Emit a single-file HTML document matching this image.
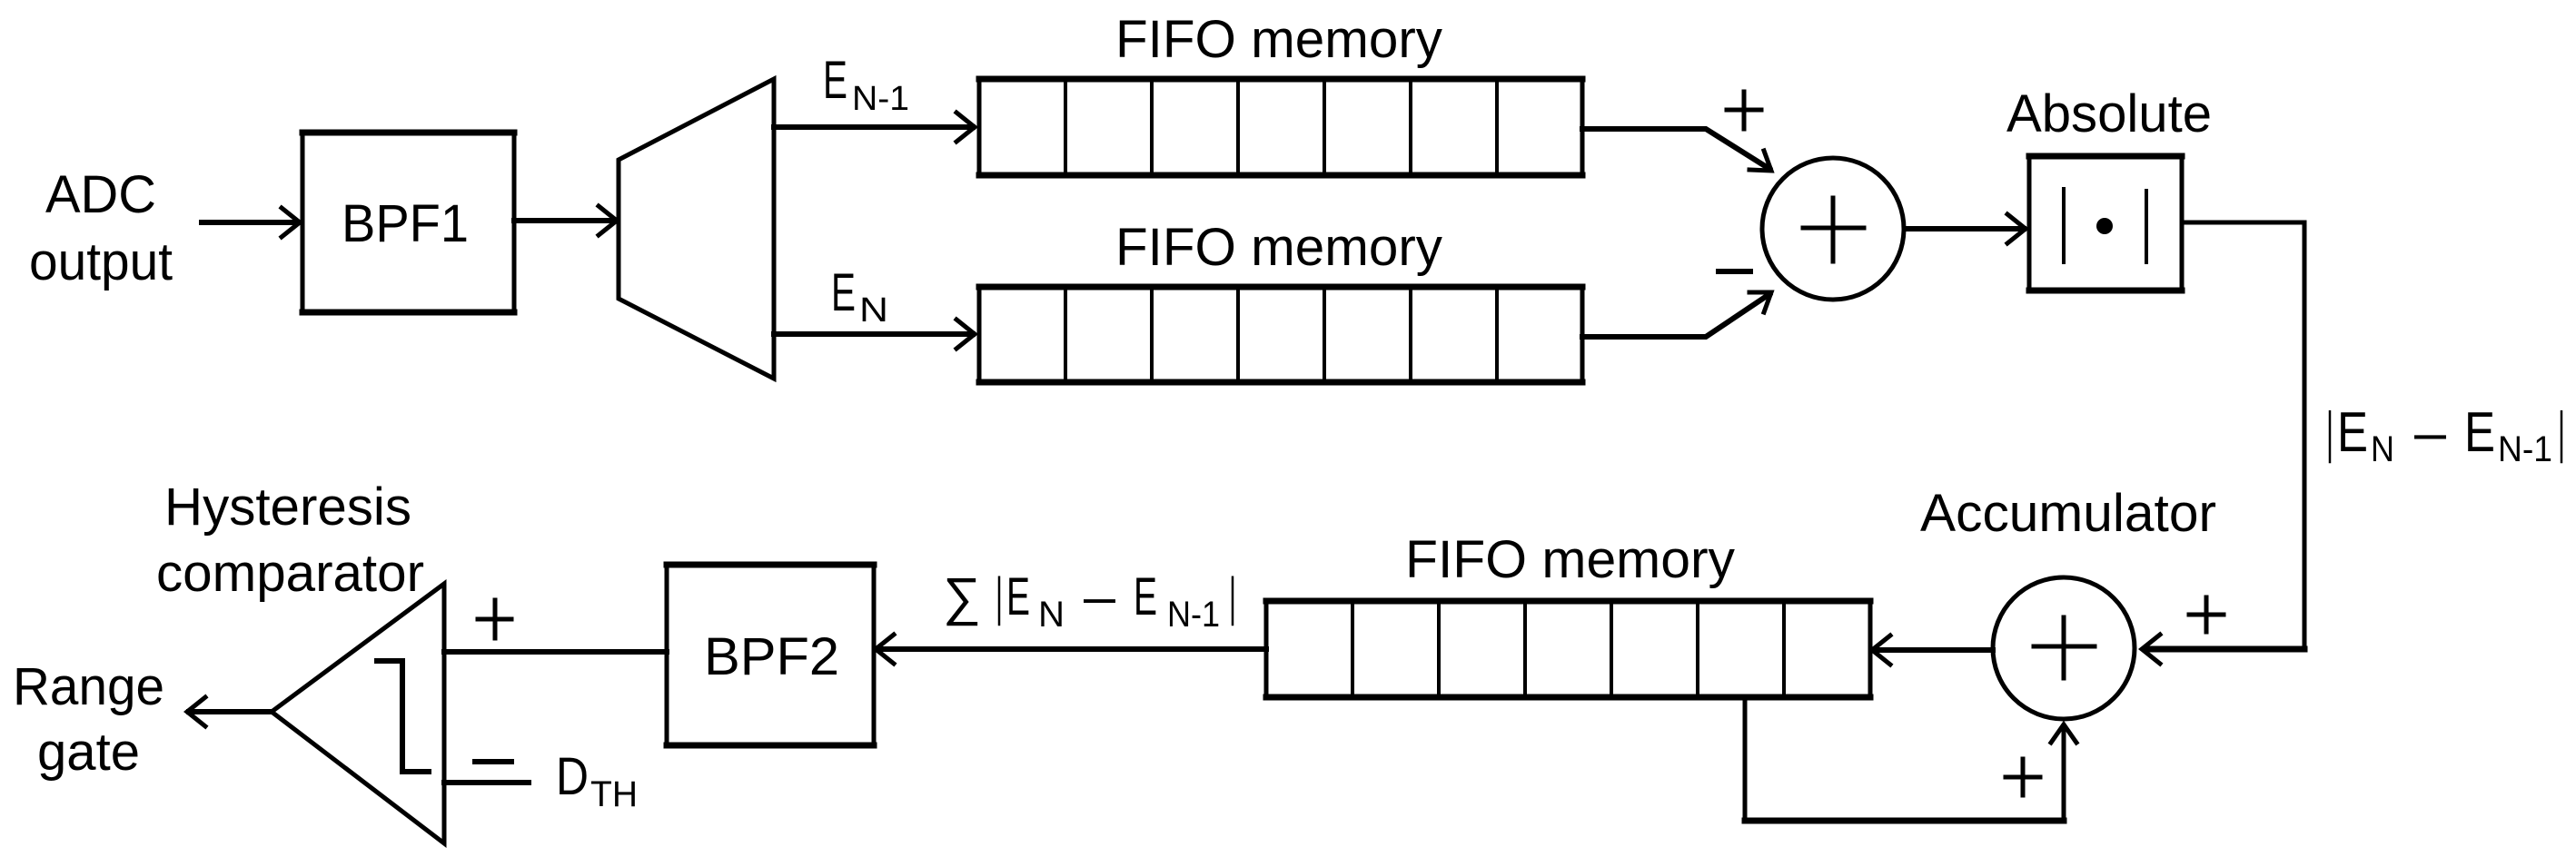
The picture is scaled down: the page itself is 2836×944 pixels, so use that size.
<!DOCTYPE html>
<html><head><meta charset="utf-8"><style>
html,body{margin:0;padding:0;background:#fff;}
svg{display:block;}
text{font-family:"Liberation Sans",Arial,sans-serif;fill:#000;}
</style></head><body>
<svg width="2836" height="944" viewBox="0 0 2836 944" xmlns="http://www.w3.org/2000/svg">
<g fill="none" stroke="#000" stroke-width="5" stroke-linecap="square" stroke-linejoin="miter">
<line x1="222" y1="245" x2="328" y2="245" stroke-width="6"/>
<polyline points="310,229 330,245 310,261"/>
<rect x="333" y="146" width="233" height="199"/>
<line x1="333" y1="146" x2="566" y2="146" stroke-width="7"/>
<line x1="333" y1="344" x2="566" y2="344" stroke-width="7"/>
<line x1="566" y1="243" x2="677" y2="243" stroke-width="6"/>
<polyline points="659,227 679,243 659,259"/>
<polygon points="681,176 852,87 852,417 681,329"/>
<line x1="852" y1="140" x2="1071" y2="140" stroke-width="6"/>
<polyline points="1053,124 1073,140 1053,156"/>
<line x1="852" y1="368" x2="1071" y2="368" stroke-width="6"/>
<polyline points="1053,352 1073,368 1053,384"/>
<rect x="1078" y="87" width="664" height="106"/>
<line x1="1078" y1="87" x2="1742" y2="87" stroke-width="7"/>
<line x1="1078" y1="193" x2="1742" y2="193" stroke-width="7"/>
<g stroke-width="4">
<line x1="1173" y1="87" x2="1173" y2="193"/><line x1="1268" y1="87" x2="1268" y2="193"/>
<line x1="1363" y1="87" x2="1363" y2="193"/><line x1="1458" y1="87" x2="1458" y2="193"/>
<line x1="1553" y1="87" x2="1553" y2="193"/><line x1="1648" y1="87" x2="1648" y2="193"/>
</g>
<rect x="1078" y="316" width="664" height="105"/>
<line x1="1078" y1="316" x2="1742" y2="316" stroke-width="7"/>
<line x1="1078" y1="421" x2="1742" y2="421" stroke-width="7"/>
<g stroke-width="4">
<line x1="1173" y1="316" x2="1173" y2="421"/><line x1="1268" y1="316" x2="1268" y2="421"/>
<line x1="1363" y1="316" x2="1363" y2="421"/><line x1="1458" y1="316" x2="1458" y2="421"/>
<line x1="1553" y1="316" x2="1553" y2="421"/><line x1="1648" y1="316" x2="1648" y2="421"/>
</g>
<polyline points="1742,142 1878,142 1948,186" stroke-width="6"/>
<polyline points="1926,187 1950,188 1942,166"/>
<polyline points="1742,371 1878,371 1948,324" stroke-width="6"/>
<polyline points="1926,322 1950,322 1942,344"/>
<circle cx="2018" cy="252" r="78"/>
<line x1="1985" y1="251" x2="2052" y2="251"/>
<line x1="2018" y1="218" x2="2018" y2="288"/>
<line x1="2097" y1="252" x2="2228" y2="252" stroke-width="6"/>
<polyline points="2210,236 2230,252 2210,268"/>
<rect x="2234" y="172" width="168" height="149"/>
<line x1="2234" y1="172" x2="2402" y2="172" stroke-width="7"/>
<line x1="2234" y1="320" x2="2402" y2="320" stroke-width="7"/>
<line x1="2272" y1="208" x2="2272" y2="289" stroke-width="4"/>
<line x1="2363" y1="210" x2="2363" y2="289" stroke-width="4"/>
<polyline points="2402,245 2537,245 2537,715 2362,715" stroke-width="5"/>
<line x1="2362" y1="715" x2="2537" y2="715" stroke-width="7"/>
<polyline points="2378,699 2358,715 2378,731"/>
<circle cx="2272" cy="714" r="78"/>
<line x1="2239" y1="712" x2="2306" y2="712"/>
<line x1="2272" y1="680" x2="2272" y2="747"/>
<line x1="2194" y1="716" x2="2063" y2="716" stroke-width="6"/>
<polyline points="2081,700 2061,716 2081,732"/>
<rect x="1394" y="662" width="665" height="106"/>
<line x1="1394" y1="662" x2="2059" y2="662" stroke-width="7"/>
<line x1="1394" y1="768" x2="2059" y2="768" stroke-width="7"/>
<g stroke-width="4">
<line x1="1489" y1="662" x2="1489" y2="768"/><line x1="1584" y1="662" x2="1584" y2="768"/>
<line x1="1679" y1="662" x2="1679" y2="768"/><line x1="1774" y1="662" x2="1774" y2="768"/>
<line x1="1869" y1="662" x2="1869" y2="768"/><line x1="1964" y1="662" x2="1964" y2="768"/>
</g>
<polyline points="1921,768 1921,904 2272,904 2272,800" stroke-width="5"/>
<line x1="1921" y1="904" x2="2272" y2="904" stroke-width="7"/>
<polyline points="2258,818 2272,798 2286,818"/>
<line x1="1394" y1="715" x2="966" y2="715" stroke-width="6"/>
<polyline points="984,699 964,715 984,731"/>
<rect x="734" y="622" width="228" height="199"/>
<line x1="734" y1="622" x2="962" y2="622" stroke-width="7"/>
<line x1="734" y1="821" x2="962" y2="821" stroke-width="7"/>
<line x1="489" y1="718" x2="734" y2="718" stroke-width="6"/>
<polygon points="489,643 489,929 299,784"/>
<line x1="299" y1="784" x2="208" y2="784" stroke-width="6"/>
<polyline points="226,768 206,784 226,800"/>
<polyline points="415,728 443,728 443,850 472,850" stroke-width="6"/>
<line x1="489" y1="862" x2="582" y2="862" stroke-width="6"/>
<g stroke-width="5">
<line x1="1901" y1="121" x2="1939" y2="121"/><line x1="1920" y1="101" x2="1920" y2="142"/>
<line x1="1892" y1="299" x2="1927" y2="299" stroke-width="6"/>
<line x1="2410" y1="677" x2="2448" y2="677"/><line x1="2429" y1="658" x2="2429" y2="696"/>
<line x1="2208" y1="856" x2="2246" y2="856"/><line x1="2227" y1="836" x2="2227" y2="876"/>
<line x1="526" y1="682" x2="563" y2="682"/><line x1="545" y1="661" x2="545" y2="703"/>
<line x1="523" y1="839" x2="563" y2="839" stroke-width="6"/>
</g>
</g>
<circle cx="2317" cy="249" r="9" fill="#000"/>
<g font-size="58">
<text x="50" y="234" textLength="122" lengthAdjust="spacingAndGlyphs">ADC</text>
<text x="32" y="308" textLength="158" lengthAdjust="spacingAndGlyphs">output</text>
<text x="376" y="266" textLength="140" lengthAdjust="spacingAndGlyphs">BPF1</text>
<text x="1228" y="63" textLength="360" lengthAdjust="spacingAndGlyphs">FIFO memory</text>
<text x="1228" y="292" textLength="360" lengthAdjust="spacingAndGlyphs">FIFO memory</text>
<text x="1547" y="636" textLength="363" lengthAdjust="spacingAndGlyphs">FIFO memory</text>
<text x="2209" y="145" textLength="226" lengthAdjust="spacingAndGlyphs">Absolute</text>
<text x="2114" y="585" textLength="326" lengthAdjust="spacingAndGlyphs">Accumulator</text>
<text x="181" y="578" textLength="272" lengthAdjust="spacingAndGlyphs">Hysteresis</text>
<text x="172" y="651" textLength="295" lengthAdjust="spacingAndGlyphs">comparator</text>
<text x="14" y="776" textLength="167" lengthAdjust="spacingAndGlyphs">Range</text>
<text x="41" y="848" textLength="113" lengthAdjust="spacingAndGlyphs">gate</text>
<text x="775" y="743" textLength="149" lengthAdjust="spacingAndGlyphs">BPF2</text>
<text x="906" y="108" textLength="27" lengthAdjust="spacingAndGlyphs">E</text>
<text x="938" y="121" font-size="38" textLength="63" lengthAdjust="spacingAndGlyphs">N-1</text>
<text x="915" y="342" textLength="27" lengthAdjust="spacingAndGlyphs">E</text>
<text x="946" y="354" font-size="38" textLength="32" lengthAdjust="spacingAndGlyphs">N</text>
<text x="612" y="875" textLength="36" lengthAdjust="spacingAndGlyphs">D</text>
<text x="650" y="888" font-size="40" textLength="52" lengthAdjust="spacingAndGlyphs">TH</text>
<text x="1038" y="677" textLength="42" lengthAdjust="spacingAndGlyphs">∑</text>
<text x="1096" y="677" textLength="8" lengthAdjust="spacingAndGlyphs">|</text>
<text x="1108" y="677" textLength="26" lengthAdjust="spacingAndGlyphs">E</text>
<text x="1143" y="690" font-size="40" textLength="29" lengthAdjust="spacingAndGlyphs">N</text>
<text x="1193" y="677" textLength="35" lengthAdjust="spacingAndGlyphs">–</text>
<text x="1248" y="677" textLength="26" lengthAdjust="spacingAndGlyphs">E</text>
<text x="1285" y="690" font-size="40" textLength="58" lengthAdjust="spacingAndGlyphs">N-1</text>
<text x="1353" y="677" textLength="8" lengthAdjust="spacingAndGlyphs">|</text>
<g font-size="62">
<text x="2561" y="497" textLength="8" lengthAdjust="spacingAndGlyphs">|</text>
<text x="2573" y="497" textLength="34" lengthAdjust="spacingAndGlyphs">E</text>
<text x="2610" y="508" font-size="40" textLength="26" lengthAdjust="spacingAndGlyphs">N</text>
<text x="2658" y="497" textLength="35" lengthAdjust="spacingAndGlyphs">–</text>
<text x="2713" y="497" textLength="34" lengthAdjust="spacingAndGlyphs">E</text>
<text x="2750" y="508" font-size="40" textLength="60" lengthAdjust="spacingAndGlyphs">N-1</text>
<text x="2816" y="497" textLength="8" lengthAdjust="spacingAndGlyphs">|</text>
</g>
</g>
</svg>
</body></html>
